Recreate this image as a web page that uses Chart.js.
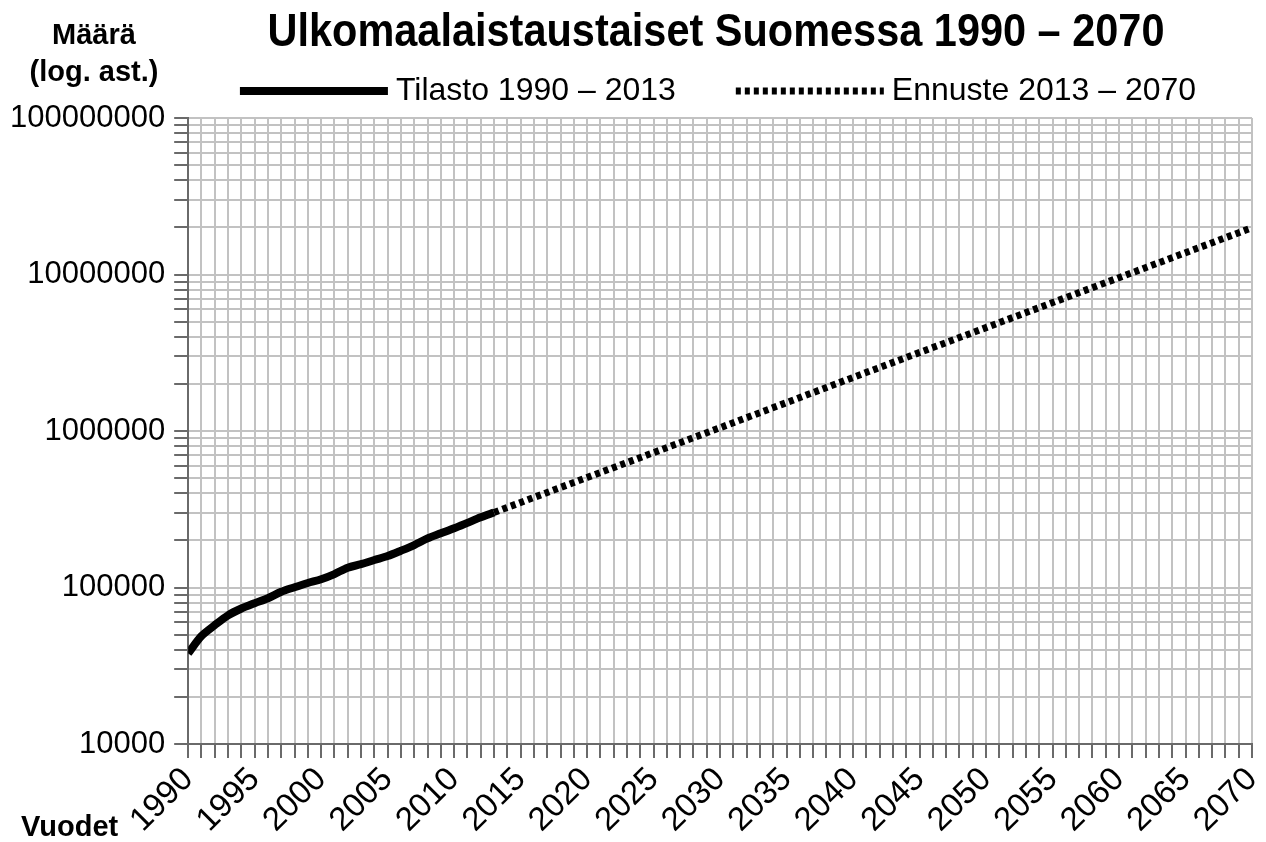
<!DOCTYPE html>
<html>
<head>
<meta charset="utf-8">
<script src="https://cdn.jsdelivr.net/npm/chart.js@4.4.1/dist/chart.umd.min.js"></script>
<style>
  body { margin: 0; background: #fff; }
  canvas { display: block; }
</style>
</head>
<body>
<canvas id="kaavio" width="1266" height="842"></canvas>
<script>
// Tilasto 1990 - 2013 (luettu kuvasta)
var vuodetTilasto = [1990, 1991, 1992, 1993, 1994, 1995, 1996, 1997, 1998, 1999, 2000, 2001,
                     2002, 2003, 2004, 2005, 2006, 2007, 2008, 2009, 2010, 2011, 2012, 2013];
var maaraTilasto = [38000, 49000, 57500, 66500, 73500, 79500, 85500, 94000, 100500, 107000, 113000, 122000,
                    134000, 141000, 150000, 159000, 172000, 187000, 206000, 222000, 239000, 259000, 281000, 302000];

// Ennuste 2013 - 2070
var vuodetEnnuste = [2013, 2020, 2030, 2040, 2050, 2060, 2070];
var maaraEnnuste = [302000, 505000, 1050000, 2200000, 4580000, 9550000, 19900000];

var sarjat = ['Tilasto 1990 – 2013', 'Ennuste 2013 – 2070'];
var otsikko = 'Ulkomaalaistaustaiset Suomessa 1990 – 2070';
var yOtsikko = ['Määrä', '(log. ast.)'];
var xOtsikko = 'Vuodet';
var yTikit = [10000, 100000, 1000000, 10000000, 100000000];

var fontti = '"Liberation Sans", Arial, sans-serif';

function pisteet(xs, ys) {
    return xs.map(function (x, i) { return { x: x, y: ys[i] }; });
}

// y-akselin apuviivat 1..9 x 10^n
function logTikit() {
    var t = [];
    for (var i = 0; i < yTikit.length - 1; i++) {
        for (var k = 1; k < 10; k++) t.push({ value: yTikit[i] * k });
    }
    t.push({ value: yTikit[yTikit.length - 1] });
    return t;
}

var otsakkeet = {
    id: 'otsakkeet',
    afterDraw: function (chart) {
        var ctx = chart.ctx;
        ctx.save();
        ctx.fillStyle = '#000';
        ctx.textBaseline = 'middle';
        ctx.textAlign = 'center';

        // otsikko, kapea lihavoitu
        ctx.save();
        ctx.font = 'bold 46px ' + fontti;
        var ow = ctx.measureText(otsikko).width;
        ctx.translate(716, 33);
        ctx.scale(897 / ow, 1);
        ctx.fillText(otsikko, 0, 0);
        ctx.restore();

        ctx.font = 'bold 29px ' + fontti;
        ctx.fillText(yOtsikko[0], 94, 36);
        ctx.fillText(yOtsikko[1], 94, 73);
        ctx.textAlign = 'left';
        ctx.fillText(xOtsikko, 21, 828);

        // selite
        ctx.font = '32px ' + fontti;
        var viiva = 148, vali = 8, rako = 60;
        var leveys = 0;
        sarjat.forEach(function (s, i) {
            leveys += viiva + vali + ctx.measureText(s).width + (i ? rako : 0);
        });
        var x = 718 - leveys / 2;
        var y = 91;
        chart.data.datasets.forEach(function (ds) {
            ctx.beginPath();
            ctx.lineWidth = ds.borderWidth;
            ctx.strokeStyle = ds.borderColor;
            ctx.setLineDash(ds.borderDash || []);
            ctx.moveTo(x, y);
            ctx.lineTo(x + viiva, y);
            ctx.stroke();
            ctx.setLineDash([]);
            ctx.fillText(ds.label, x + viiva + vali, y);
            x += viiva + vali + ctx.measureText(ds.label).width + rako;
        });
        ctx.restore();
    }
};

var ctx = document.getElementById('kaavio').getContext('2d');
var kaavio = new Chart(ctx, {
    type: 'line',
    data: {
        datasets: [{
            label: sarjat[0],
            data: pisteet(vuodetTilasto, maaraTilasto),
            borderColor: '#000',
            borderWidth: 8,
            pointRadius: 0,
            tension: 0.3,
            fill: false
        }, {
            label: sarjat[1],
            data: pisteet(vuodetEnnuste, maaraEnnuste),
            borderColor: '#000',
            borderWidth: 7,
            borderDash: [5, 4],
            pointRadius: 0,
            tension: 0,
            fill: false
        }]
    },
    options: {
        responsive: false,
        animation: false,
        devicePixelRatio: 1,
        layout: { padding: { left: 1, right: 0, top: 118, bottom: 0 } },
        plugins: {
            legend: { display: false },
            tooltip: { enabled: false },
            title: { display: false }
        },
        scales: {
            x: {
                type: 'linear',
                min: 1990,
                max: 2070,
                afterFit: function (scale) { scale.paddingRight = 14; },
                ticks: {
                    stepSize: 1,
                    autoSkip: false,
                    minRotation: 45,
                    maxRotation: 45,
                    color: '#000',
                    padding: 2,
                    font: { family: fontti, size: 33 },
                    callback: function (v) { return v % 5 === 0 ? String(v) : ''; }
                },
                grid: { color: '#c2c2c2', lineWidth: 2, tickColor: '#6a6a6a', tickLength: 14 },
                border: { color: '#6a6a6a', width: 2 }
            },
            y: {
                type: 'logarithmic',
                min: 10000,
                max: 100000000,
                afterBuildTicks: function (scale) { scale.ticks = logTikit(); },
                ticks: {
                    autoSkip: false,
                    color: '#000',
                    padding: 9,
                    font: { family: fontti, size: 31 },
                    callback: function (v) { return yTikit.indexOf(v) >= 0 ? String(v) : ''; }
                },
                grid: { color: '#c2c2c2', lineWidth: 2, tickColor: '#6a6a6a', tickLength: 14 },
                border: { color: '#6a6a6a', width: 2 }
            }
        }
    },
    plugins: [otsakkeet]
});
</script>
</body>
</html>
